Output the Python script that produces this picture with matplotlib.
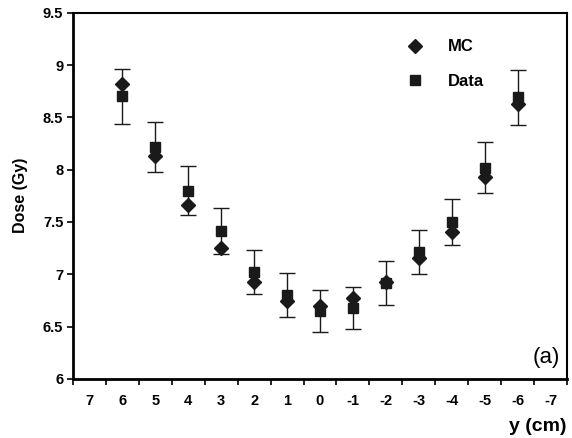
import numpy as np
import matplotlib.pyplot as plt
from matplotlib.lines import Line2D

plt.rcParams['font.family'] = ['Liberation Sans', 'DejaVu Sans']

# category labels on the x axis (y position in cm)
categories = ['7', '6', '5', '4', '3', '2', '1', '0', '-1', '-2', '-3', '-4', '-5', '-6', '-7']
# measured points exist for 6 .. -6
point_labels = ['6', '5', '4', '3', '2', '1', '0', '-1', '-2', '-3', '-4', '-5', '-6']
mc_dose = [8.82, 8.13, 7.66, 7.25, 6.93, 6.74, 6.70, 6.77, 6.93, 7.16, 7.40, 7.93, 8.63]
data_dose = [8.70, 8.22, 7.80, 7.41, 7.02, 6.80, 6.65, 6.68, 6.92, 7.21, 7.50, 8.02, 8.69]
data_err = [0.26, 0.24, 0.23, 0.22, 0.21, 0.21, 0.20, 0.20, 0.21, 0.21, 0.22, 0.24, 0.26]

xpos = [categories.index(c) for c in point_labels]

fig = plt.figure(figsize=(5.72, 4.38), dpi=100)
ax = fig.add_axes([0.1276, 0.135, 0.8636, 0.836])

ax.errorbar(xpos, data_dose, yerr=data_err, fmt='s', color='#1a1a1a', ms=7.5,
            ecolor='#1a1a1a', elinewidth=1.0, capsize=5.5, capthick=1.0, zorder=3)
ax.plot(xpos, mc_dose, 'D', color='#1a1a1a', ms=7.5, linestyle='none', zorder=4)

ax.set_xlim(-0.5, len(categories) - 0.5)
ax.set_ylim(6, 9.5)
ax.set_yticks(np.arange(6, 9.51, 0.5))
ax.set_yticklabels(['6', '6.5', '7', '7.5', '8', '8.5', '9', '9.5'], fontweight='bold', fontsize=10.5)

# excel-style category axis: ticks between categories, labels centred
ax.set_xticks(np.arange(-0.5, len(categories), 1.0))
ax.set_xticklabels([])
ax.set_xticks(range(len(categories)), minor=True)
ax.set_xticklabels(categories, minor=True, fontweight='bold', fontsize=10.5)
ax.tick_params(axis='x', which='minor', length=0, pad=11)
ax.tick_params(axis='x', which='major', length=4, width=1.2, direction='out')
ax.tick_params(axis='y', length=4, width=1.2, direction='out', pad=3)

for side in ['left', 'bottom']:
    ax.spines[side].set_linewidth(2.0)
for side in ['top', 'right']:
    ax.spines[side].set_linewidth(1.5)

ax.set_ylabel('Dose (Gy)', fontweight='bold', fontsize=11.5, labelpad=11)
fig.text(0.99, 0.006, 'y (cm)', ha='right', va='bottom', fontweight='bold', fontsize=14)
ax.text(0.985, 0.03, '(a)', transform=ax.transAxes, ha='right', va='bottom', fontsize=16)

handles = [Line2D([], [], marker='D', color='#1a1a1a', ms=7, linestyle='none'),
           Line2D([], [], marker='s', color='#1a1a1a', ms=7, linestyle='none')]
ax.legend(handles, ['MC', 'Data'], loc='upper left', bbox_to_anchor=(0.645, 0.968),
          frameon=False, prop={'weight': 'bold', 'size': 12}, handletextpad=1.5,
          labelspacing=1.15, handlelength=1.0)

fig.savefig('out.png', dpi=100)
